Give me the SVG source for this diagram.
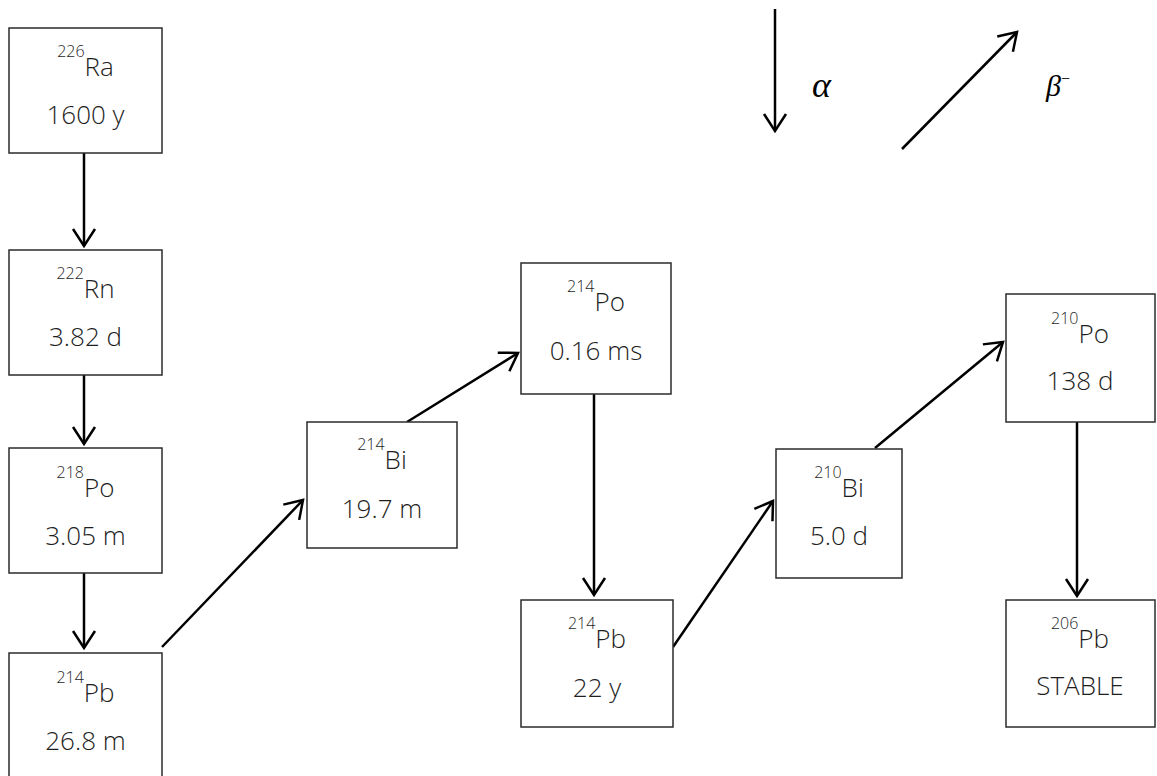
<svg xmlns="http://www.w3.org/2000/svg" width="1157" height="776" viewBox="0 0 1157 776">
  <style>
    .box { fill: #fff; stroke: #2b2b2b; stroke-width: 1.5; }
    .lbl { font-family: "Open Sans", "Noto Sans", sans-serif; font-weight: 300; font-size: 26px; fill: #1e1e1e; text-anchor: middle; }
    .sup { font-size: 16px; }
    .conn { stroke: #000; stroke-width: 2.5; fill: none; marker-end: url(#head); }
    .greek { font-family: "Liberation Serif", "DejaVu Serif", serif; font-style: italic; font-size: 30px; fill: #000; }
    .alpha { font-size: 36px; }
    .minus { font-size: 16px; font-style: normal; }
  </style>
  <defs>
    <marker id="head" markerUnits="userSpaceOnUse" markerWidth="40" markerHeight="40" refX="0" refY="0" orient="auto" overflow="visible">
      <path d="M-17,-11 L0,0 L-17,11" fill="none" stroke="#000" stroke-width="2.5" stroke-linejoin="miter"/>
    </marker>
  </defs>
  <rect width="1157" height="776" fill="#fff"/>

  <!-- decay connectors -->
  <g id="connectors">
    <line class="conn" x1="84" y1="153" x2="84" y2="246"/>
    <line class="conn" x1="84" y1="375" x2="84" y2="444"/>
    <line class="conn" x1="84" y1="573" x2="84" y2="648"/>
    <line class="conn" x1="162" y1="647" x2="303" y2="500"/>
    <line class="conn" x1="407" y1="422" x2="518" y2="353"/>
    <line class="conn" x1="594" y1="394" x2="594" y2="595"/>
    <line class="conn" x1="673" y1="647" x2="773" y2="501"/>
    <line class="conn" x1="875" y1="448" x2="1003" y2="342"/>
    <line class="conn" x1="1077" y1="422" x2="1077" y2="596"/>
  </g>

  <!-- legend -->
  <g id="legend">
    <line class="conn" x1="775" y1="9" x2="775" y2="131"/>
    <text class="greek alpha" x="812" y="97">α</text>
    <line class="conn" x1="902" y1="149" x2="1017" y2="32"/>
    <text class="greek" x="1046" y="96">β<tspan class="minus" dy="-12">−</tspan></text>
  </g>

  <g id="ra226">
    <rect class="box" x="9" y="28" width="153" height="125"/>
    <text class="lbl" x="85.5" y="76"><tspan class="sup" dy="-19">226</tspan><tspan dy="19">Ra</tspan></text>
    <text class="lbl" x="85.5" y="124">1600 y</text>
  </g>

  <g id="rn222">
    <rect class="box" x="9" y="250" width="153" height="125"/>
    <text class="lbl" x="85.5" y="298"><tspan class="sup" dy="-19">222</tspan><tspan dy="19">Rn</tspan></text>
    <text class="lbl" x="85.5" y="346">3.82 d</text>
  </g>

  <g id="po218">
    <rect class="box" x="9" y="448" width="153" height="125"/>
    <text class="lbl" x="85.5" y="497"><tspan class="sup" dy="-19">218</tspan><tspan dy="19">Po</tspan></text>
    <text class="lbl" x="85.5" y="545">3.05 m</text>
  </g>

  <g id="pb214a">
    <rect class="box" x="9" y="653" width="153" height="130"/>
    <text class="lbl" x="85.5" y="702"><tspan class="sup" dy="-19">214</tspan><tspan dy="19">Pb</tspan></text>
    <text class="lbl" x="85.5" y="750">26.8 m</text>
  </g>

  <g id="bi214">
    <rect class="box" x="307" y="422" width="150" height="126"/>
    <text class="lbl" x="382" y="469"><tspan class="sup" dy="-19">214</tspan><tspan dy="19">Bi</tspan></text>
    <text class="lbl" x="382" y="518">19.7 m</text>
  </g>

  <g id="po214">
    <rect class="box" x="521" y="263" width="150" height="131"/>
    <text class="lbl" x="596" y="311"><tspan class="sup" dy="-19">214</tspan><tspan dy="19">Po</tspan></text>
    <text class="lbl" x="596" y="360">0.16 ms</text>
  </g>

  <g id="pb214b">
    <rect class="box" x="521" y="600" width="152" height="127"/>
    <text class="lbl" x="597" y="648"><tspan class="sup" dy="-19">214</tspan><tspan dy="19">Pb</tspan></text>
    <text class="lbl" x="597" y="697">22 y</text>
  </g>

  <g id="bi210">
    <rect class="box" x="776" y="449" width="126" height="129"/>
    <text class="lbl" x="839" y="497"><tspan class="sup" dy="-19">210</tspan><tspan dy="19">Bi</tspan></text>
    <text class="lbl" x="839" y="545">5.0 d</text>
  </g>

  <g id="po210">
    <rect class="box" x="1006" y="294" width="149" height="128"/>
    <text class="lbl" x="1080" y="343"><tspan class="sup" dy="-19">210</tspan><tspan dy="19">Po</tspan></text>
    <text class="lbl" x="1080" y="390">138 d</text>
  </g>

  <g id="pb206">
    <rect class="box" x="1006" y="600" width="149" height="127"/>
    <text class="lbl" x="1080" y="648"><tspan class="sup" dy="-19">206</tspan><tspan dy="19">Pb</tspan></text>
    <text class="lbl" x="1080" y="695">STABLE</text>
  </g>
</svg>
